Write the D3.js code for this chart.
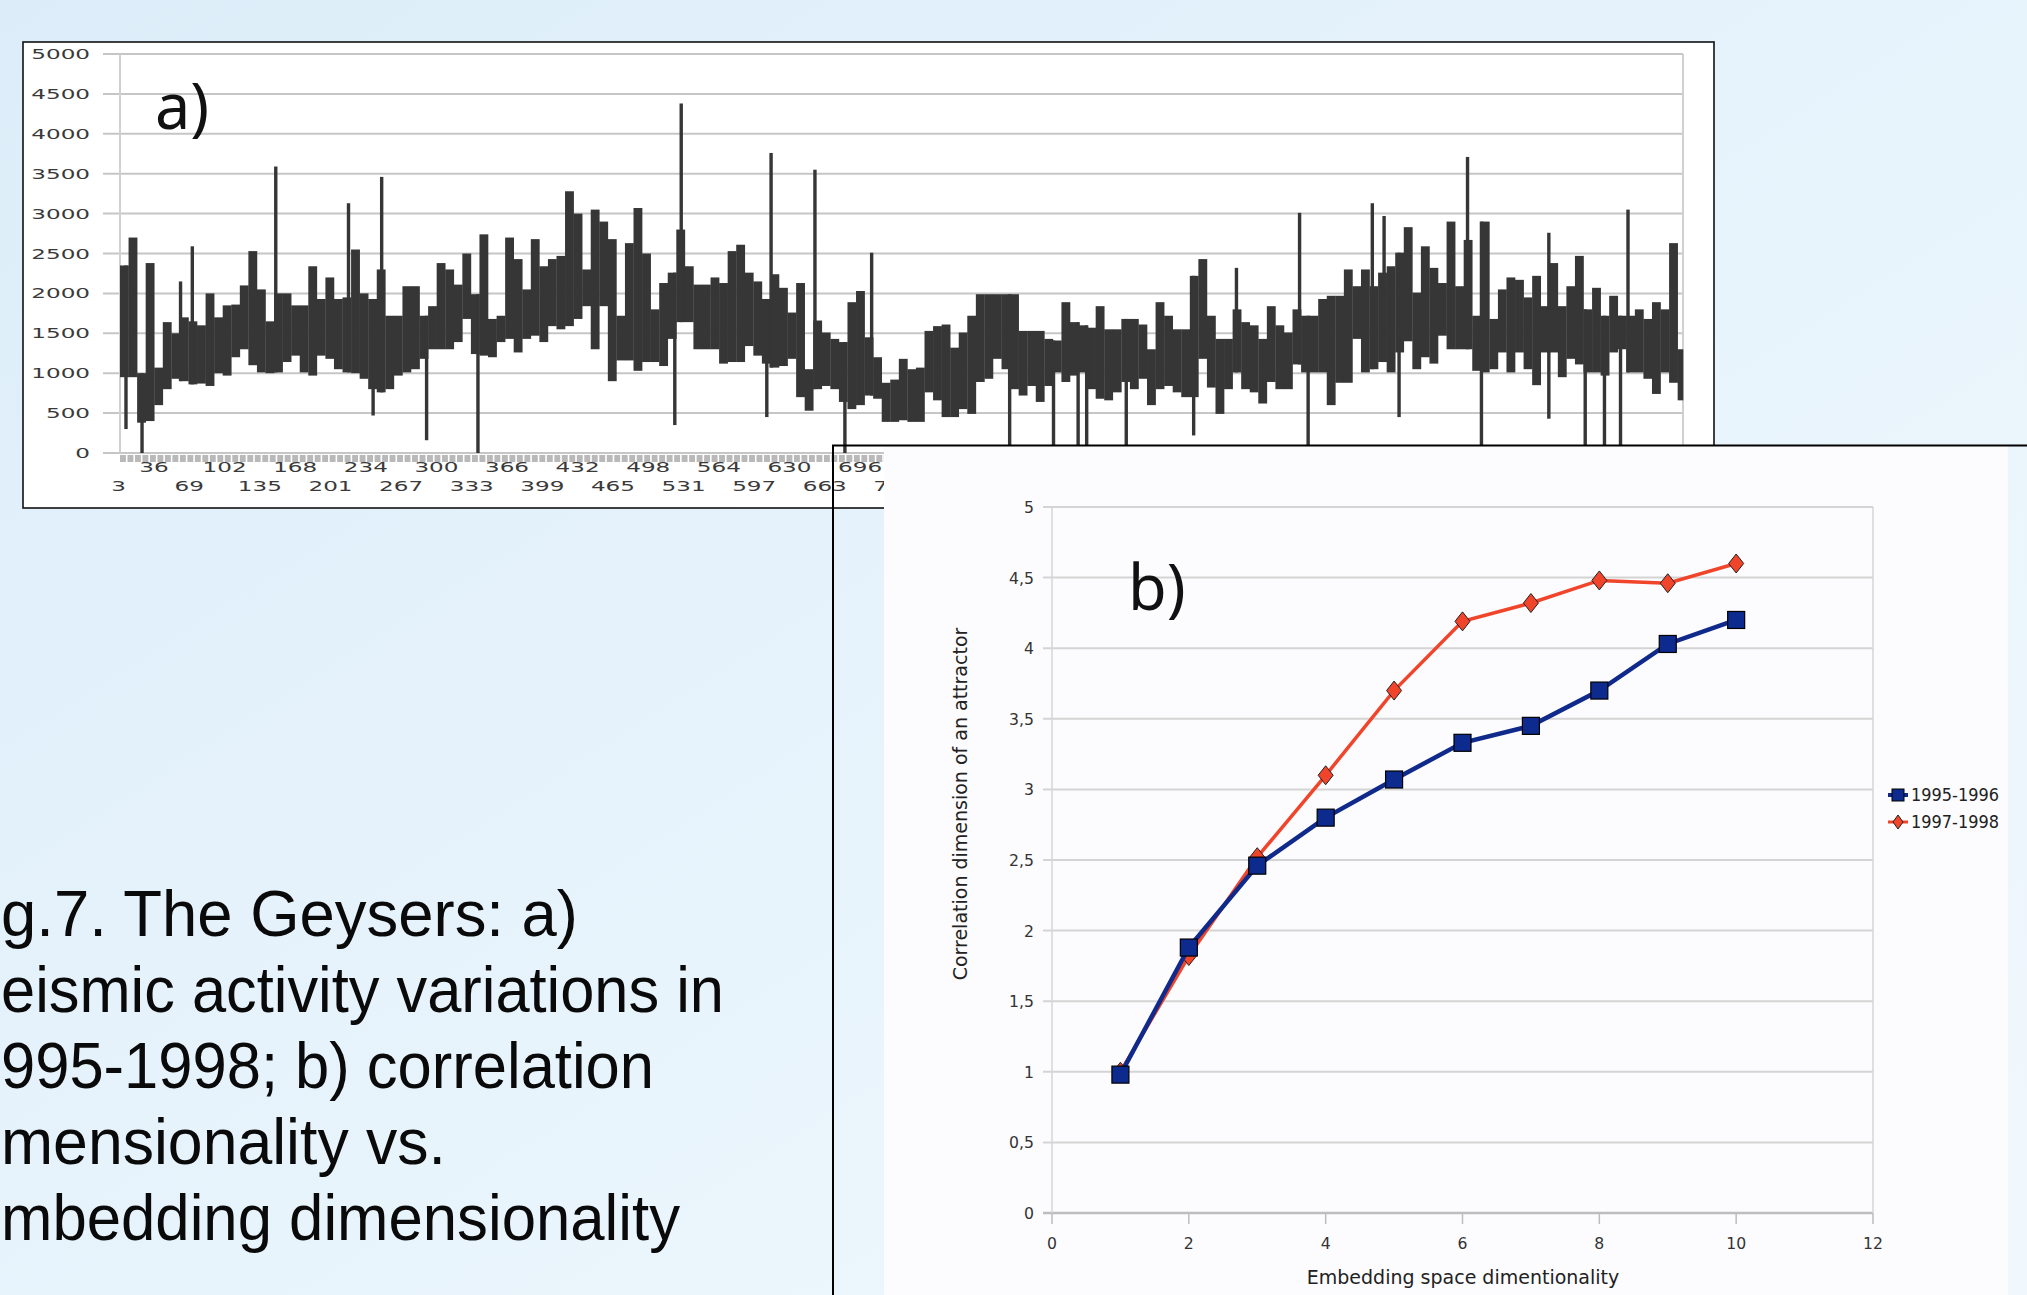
<!DOCTYPE html>
<html><head><meta charset="utf-8">
<script src="https://cdn.jsdelivr.net/npm/d3@7"></script>
<style>html,body{margin:0;padding:0;overflow:hidden;background:#e6f2fb;} svg{display:block;}</style>
</head><body>
<svg id="c" width="2027" height="1295"></svg>
<script>
// ---------- DATA: panel a) daily seismic activity 1995-1998 (1461 days), read as 8-day envelopes ----------
const nDays = 1461;
const binDays = 8;
const bandLow = [950,950,380,400,600,800,930,900,860,870,840,1000,970,1200,1300,1100,1010,1000,1010,1140,
1220,1010,970,1220,1180,1050,1010,1000,930,800,760,800,970,1010,1050,1180,1300,1300,1300,1390,
1680,1240,1220,1200,1390,1430,1260,1430,1470,1390,1590,1550,1590,1680,1840,1300,1840,900,1160,1160,
1030,1140,1140,1090,1430,1640,1640,1300,1300,1300,1120,1140,1140,1340,1220,1120,1070,1090,1180,700,
530,800,840,800,640,550,600,720,680,390,390,410,390,390,760,660,450,450,550,490,
890,930,1180,1050,800,720,840,640,840,1010,890,970,1010,800,680,660,760,890,800,930,
600,800,840,760,700,700,1180,820,490,800,1010,800,760,620,890,800,800,1110,1010,1010,
1010,600,880,880,1430,1010,1050,1140,1010,1260,1400,1050,1200,1120,1470,1300,1300,1300,1030,1010,
1050,1260,1010,1260,1050,850,1260,1260,950,1180,1110,1010,1010,970,1260,1300,1010,1010,930,740,
1010,880,660];
const bandHigh = [2350,2700,1000,2380,1070,1640,1500,1700,1650,1600,2000,1700,1850,1860,2100,2530,2050,1650,2000,2000,
1850,1850,2340,1930,2200,1930,1950,2550,2000,1930,2300,1720,1720,2090,2090,1720,1840,2380,2300,2110,
2500,1990,2740,1680,1720,2700,2430,2050,2680,2340,2430,2470,3280,3000,2300,3050,2900,2680,1720,2630,
3070,2500,1800,2130,2260,2800,2340,2110,2110,2200,2130,2530,2610,2260,2150,1930,2240,2070,1760,2130,
1050,1660,1510,1430,1390,1890,2030,1450,1200,880,920,1180,1050,1070,1530,1590,1610,1320,1510,1720,
1990,1990,1990,1990,1990,1530,1530,1530,1430,1410,1890,1640,1600,1570,1840,1550,1550,1680,1680,1610,
1300,1890,1720,1550,1550,2220,2430,1720,1430,1430,1800,1640,1600,1430,1840,1600,1510,1800,1720,1720,
1930,1970,1970,2300,2090,2300,2090,2260,2340,2510,2830,2010,2590,2320,2130,2900,2090,2670,1720,2900,
1680,2050,2200,2170,1950,2220,1840,2380,1840,2090,2470,1800,2070,1720,1970,1720,1720,1800,1680,1890,
1800,2630,1300];
const spikeUpDays   = [57,68,146,214,245,525,609,650,703,1044,1103,1171,1182,1260,1336,1410];
const spikeUpValues = [2150,2590,3590,3130,3460,4380,3760,3550,2510,2320,3010,3130,2970,3710,2760,3050];
const spikeDownDays   = [6,21,237,287,335,519,605,678,832,873,896,904,941,1004,1111,1196,1273,1336,1370,1388,1403];
const spikeDownValues = [300,0,470,160,0,350,450,0,0,0,0,0,0,220,0,450,0,430,0,0,0];
const aYTicks = [0,500,1000,1500,2000,2500,3000,3500,4000,4500,5000];
const aXTickStart = 3, aXTickStep = 33;

// ---------- DATA: panel b) correlation dimension vs embedding dimension ----------
const embeddingDims = [1,2,3,4,5,6,7,8,9,10];
const corr1995_1996 = [0.98,1.88,2.46,2.80,3.07,3.33,3.45,3.70,4.03,4.20];
const corr1997_1998 = [1.00,1.82,2.52,3.10,3.70,4.19,4.32,4.48,4.46,4.60];
const seriesNames = ["1995-1996","1997-1998"];
const bYTicks = [0,0.5,1,1.5,2,2.5,3,3.5,4,4.5,5];
const bXTicks = [0,2,4,6,8,10,12];

// caption as visible in the reference (its left part lies off the slide)
const captionLines = ["g.7. The Geysers: a)","eismic activity variations in","995-1998; b) correlation","mensionality vs.","mbedding dimensionality"];

// ---------- DRAW ----------
const W=2027,H=1295;
const svg=d3.select("#c");
const defs=svg.append("defs");
const grad=defs.append("linearGradient").attr("id","bg").attr("x1",0).attr("y1",0).attr("x2",1).attr("y2",1);
grad.append("stop").attr("offset","0%").attr("stop-color","#dcedf9");
grad.append("stop").attr("offset","55%").attr("stop-color","#e8f4fc");
grad.append("stop").attr("offset","100%").attr("stop-color","#f1f8fd");
svg.append("rect").attr("width",W).attr("height",H).attr("fill","url(#bg)");

function sText(g,x,y,str,size,anchor,sx,fill,family){
  return g.append("text").attr("transform",`translate(${x},${y}) scale(${sx},1)`)
    .attr("text-anchor",anchor).attr("font-family",family||"DejaVu Sans").attr("font-size",size)
    .attr("fill",fill||"#333").text(str);
}

// ----- panel a -----
const ga=svg.append("g");
ga.append("rect").attr("x",23).attr("y",42).attr("width",1691).attr("height",466)
  .attr("fill","#ffffff").attr("stroke","#111").attr("stroke-width",1.6);
const xA=d3.scaleLinear().domain([0.5,nDays+0.5]).range([120,1683]);
const yA=d3.scaleLinear().domain([0,5000]).range([453,54]);
ga.selectAll("line.ag").data(aYTicks).join("line").attr("class","ag")
  .attr("x1",103).attr("x2",xA.range()[1]).attr("y1",d=>yA(d)).attr("y2",d=>yA(d))
  .attr("stroke","#c6c6c6").attr("stroke-width",2);
[xA.range()[0],xA.range()[1]].forEach(x=>{
  ga.append("line").attr("x1",x).attr("x2",x).attr("y1",yA(5000)).attr("y2",yA(0))
    .attr("stroke","#d0d0d0").attr("stroke-width",2);
});
aYTicks.forEach(v=>sText(ga,90,yA(v)+5,String(v),14,"end",1.65,"#3a3a3a"));
// tick strip
const weeks=d3.range(1,nDays+1,7);
ga.selectAll("rect.tk").data(weeks).join("rect").attr("class","tk")
  .attr("x",d=>xA(d-0.5)).attr("width",d=>Math.max(0,xA(Math.min(d+6,nDays)+0.5)-xA(d-0.5)-1.6))
  .attr("y",455).attr("height",7).attr("fill","#b9b9b9");
// tick labels (two staggered rows)
const aXLabels=d3.range(aXTickStart,nDays+1,aXTickStep);
aXLabels.forEach((d,i)=>{
  sText(ga,xA(d)-4,(i%2===0)?491:472,String(d),14,"middle",1.65,"#3a3a3a");
});
// band
const bins=d3.range(bandLow.length);
const ink="#363636";
ga.selectAll("rect.band").data(bins).join("rect").attr("class","band")
  .attr("x",k=>xA(k*binDays+0.5))
  .attr("width",k=>xA(Math.min(k*binDays+binDays,nDays)+0.5)-xA(k*binDays+0.5)+0.3)
  .attr("y",k=>yA(bandHigh[k])).attr("height",k=>yA(bandLow[k])-yA(bandHigh[k]))
  .attr("fill",ink);
const binOf=d=>Math.min(bandLow.length-1,Math.floor((d-1)/binDays));
ga.selectAll("rect.su").data(spikeUpDays).join("rect").attr("class","su")
  .attr("x",d=>xA(d)-1.6).attr("width",3.4)
  .attr("y",(d,i)=>yA(spikeUpValues[i])).attr("height",(d,i)=>yA(bandLow[binOf(d)])-yA(spikeUpValues[i]))
  .attr("fill",ink);
ga.selectAll("rect.sd").data(spikeDownDays).join("rect").attr("class","sd")
  .attr("x",d=>xA(d)-1.6).attr("width",3.4)
  .attr("y",d=>yA(bandHigh[binOf(d)])).attr("height",(d,i)=>yA(spikeDownValues[i])-yA(bandHigh[binOf(d)]))
  .attr("fill",ink);
ga.append("text").attr("x",155).attr("y",129).attr("font-family","Noto Sans").attr("font-size",63)
  .attr("fill","#111").text("a)");

// ----- panel b -----
const gb=svg.append("g");
gb.append("rect").attr("x",884).attr("y",446).attr("width",2008-884).attr("height",H-446).attr("fill","#fcfcfe");
gb.append("path").attr("d",`M833,${H} V445.5 H${W}`).attr("fill","none").attr("stroke","#000").attr("stroke-width",2);
const xB=d3.scaleLinear().domain([0,12]).range([1052,1873]);
const yB=d3.scaleLinear().domain([0,5]).range([1213,507]);
gb.selectAll("line.bg").data(bYTicks).join("line").attr("class","bg")
  .attr("x1",1043).attr("x2",xB(12)).attr("y1",d=>yB(d)).attr("y2",d=>yB(d))
  .attr("stroke",d=>d===0?"#bdbdbd":"#d4d4d4").attr("stroke-width",d=>d===0?2.6:2);
[0,12].forEach(v=>gb.append("line").attr("x1",xB(v)).attr("x2",xB(v)).attr("y1",yB(5)).attr("y2",yB(0))
  .attr("stroke","#d6d6d6").attr("stroke-width",1.5));
gb.selectAll("line.bt").data(bXTicks).join("line").attr("class","bt")
  .attr("x1",d=>xB(d)).attr("x2",d=>xB(d)).attr("y1",yB(0)).attr("y2",yB(0)+11)
  .attr("stroke","#bdbdbd").attr("stroke-width",1.5);
bYTicks.forEach(v=>sText(gb,1034,yB(v)+6,String(v).replace(".",","),16.5,"end",0.95,"#333"));
bXTicks.forEach(v=>sText(gb,xB(v),yB(0)+36,String(v),16.5,"middle",0.95,"#333"));
sText(gb,1463,1284,"Embedding space dimentionality",19,"middle",1,"#222");
gb.append("text").attr("transform","translate(967,804) rotate(-90)").attr("text-anchor","middle")
  .attr("font-family","DejaVu Sans").attr("font-size",19).attr("fill","#222")
  .text("Correlation dimension of an attractor");
gb.append("text").attr("x",1128).attr("y",610).attr("font-family","Noto Sans").attr("font-size",63)
  .attr("fill","#111").text("b)");

const line=d3.line().x((d,i)=>xB(embeddingDims[i])).y(d=>yB(d));
const red="#f0452a", blue="#102a8c";
gb.append("path").attr("d",line(corr1997_1998)).attr("fill","none").attr("stroke",red).attr("stroke-width",3.5);
const diamond=(cx,cy,w,h)=>`M${cx},${cy-h/2} L${cx+w/2},${cy} L${cx},${cy+h/2} L${cx-w/2},${cy} Z`;
gb.selectAll("path.dm").data(corr1997_1998).join("path").attr("class","dm")
  .attr("d",(d,i)=>diamond(xB(embeddingDims[i]),yB(d),15,19)).attr("fill",red).attr("stroke","#222").attr("stroke-width",1);
gb.append("path").attr("d",line(corr1995_1996)).attr("fill","none").attr("stroke",blue).attr("stroke-width",4.5);
gb.selectAll("rect.sq").data(corr1995_1996).join("rect").attr("class","sq")
  .attr("x",(d,i)=>xB(embeddingDims[i])-8.5).attr("y",d=>yB(d)-8.5).attr("width",17).attr("height",17)
  .attr("fill","#0d2a8f").attr("stroke","#000").attr("stroke-width",1.2);

// legend
const lg=gb.append("g");
seriesNames.forEach((nm,i)=>{
  const y=795+i*27;
  const col=i===0?blue:red;
  lg.append("line").attr("x1",1888).attr("x2",1908).attr("y1",y).attr("y2",y).attr("stroke",col).attr("stroke-width",i===0?4:3);
  if(i===0) lg.append("rect").attr("x",1892).attr("y",y-6).attr("width",12).attr("height",12).attr("fill","#0d2a8f").attr("stroke","#000");
  else lg.append("path").attr("d",diamond(1898,y,10,14)).attr("fill",red).attr("stroke","#222");
  sText(lg,1911,y+6,nm,17,"start",0.95,"#222");
});

// ----- caption -----
const capRight=[578,724,654,446,680];
const cg=svg.append("g");
captionLines.forEach((t,i)=>{
  cg.append("text").attr("x",1).attr("y",936+i*76)
    .attr("font-family","Liberation Sans").attr("font-size",65).attr("fill","#0a0a0a")
    .attr("textLength",capRight[i]-1).attr("lengthAdjust","spacingAndGlyphs").text(t);
});
</script>
</body></html>
